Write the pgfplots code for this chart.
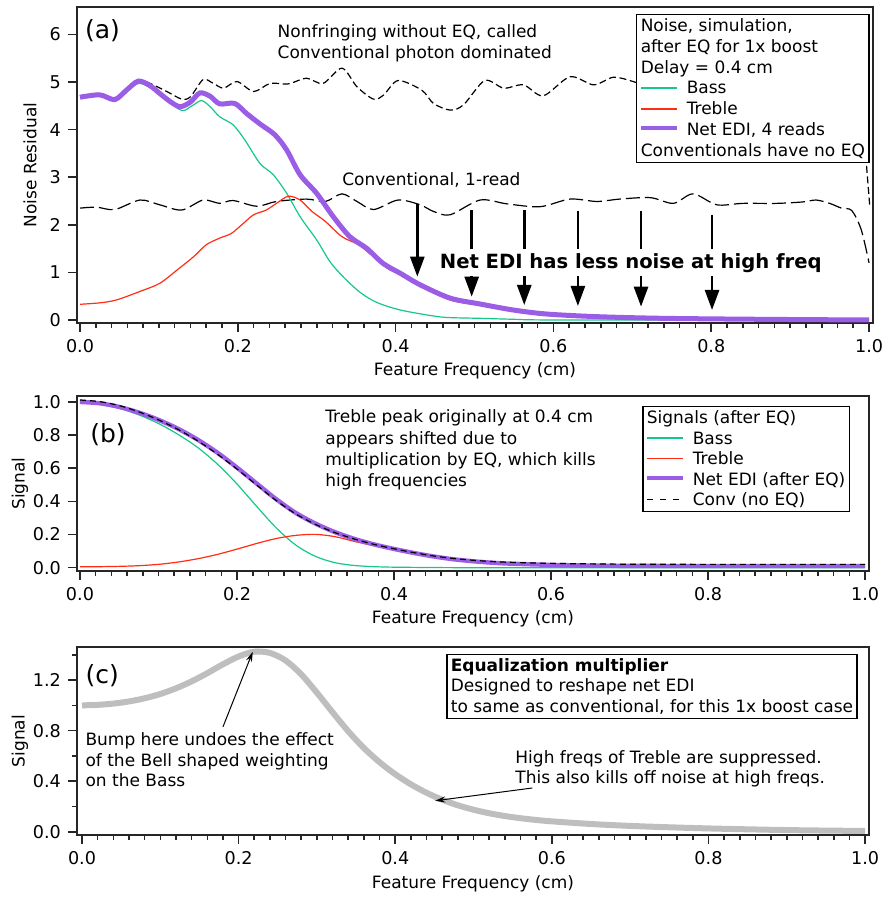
\documentclass[border=0pt]{standalone}
\usepackage{fontspec}
\setmainfont{DejaVu Sans}
\usepackage{pgfplots}
\pgfplotsset{compat=1.18}
\usetikzlibrary{arrows.meta}
\definecolor{cbass}{RGB}{20,200,135}
\definecolor{ctreb}{RGB}{255,45,20}
\definecolor{cedi}{RGB}{155,92,230}
\definecolor{cgray}{RGB}{190,190,190}
\newcommand{\lsamp}[2]{{\color{#1}\rule[0.3em]{18pt}{#2}}\hspace{5pt}}
\newcommand{\dsamp}{\rule[0.3em]{3pt}{0.7pt}\hspace{3.5pt}\rule[0.3em]{3pt}{0.7pt}\hspace{3.5pt}\rule[0.3em]{3pt}{0.7pt}\hspace{7pt}}
\newcommand{\txt}{\fontsize{8.5}{10.4}\selectfont}
\tikzset{arr/.style={black, line width=1.3pt, -{Triangle[width=7pt,length=10pt]}}}
\pgfplotsset{
 igor/.style={
  scale only axis,
  axis line style={line width=0.8pt, black!85},
  tick align=outside, tick pos=left,
  major tick length=4.5pt, minor tick length=2.5pt,
  every tick/.style={black!85, line width=0.8pt},
  xtick={0,0.2,0.4,0.6,0.8,1.0}, minor x tick num=9,
  x tick label style={/pgf/number format/fixed, /pgf/number format/fixed zerofill, /pgf/number format/precision=1},
  /pgf/number format/assume math mode=true,
  tick label style={font=\fontsize{8.8}{10}\selectfont},
  label style={font=\txt},
  xlabel={Feature Frequency (cm)},
 }
}
\begin{document}
\begin{tikzpicture}
\path[use as bounding box] (0,0) rectangle (441pt,448.5pt);
% ---------------- (a)
\begin{axis}[igor, at={(38.5pt,287pt)}, anchor=south west, width=398pt, height=158pt,
  xmin=-0.0038, xmax=1.005, ymin=-0.063, ymax=6.576, ytick={0,1,2,3,4,5,6},
  ylabel={Noise Residual},
  ylabel style={at={(axis description cs:-0.059,0.5)}, anchor=center},
  xlabel style={at={(axis description cs:0.5,-0.152)}, anchor=center}]
\addplot[black, line width=0.6pt, dash pattern=on 3.5pt off 1.8pt, smooth] coordinates {
(0,4.71)(0.025,4.76)(0.044,4.66)(0.059,4.85)(0.074,5.05)(0.089,4.97)(0.110,4.80)(0.129,4.64)(0.140,4.69)
(0.156,5.05)(0.169,4.97)(0.182,4.87)(0.199,5.01)(0.220,4.80)(0.241,4.97)(0.264,4.96)(0.287,5.08)(0.308,4.97)
(0.332,5.29)(0.351,4.90)(0.372,4.64)(0.385,4.73)(0.403,5.03)(0.433,4.83)(0.448,4.55)(0.469,4.41)(0.486,4.52)
(0.513,5.03)(0.537,4.87)(0.562,4.94)(0.587,4.71)(0.621,5.11)(0.651,4.94)(0.676,5.10)(0.701,5.01)
(0.73,4.85)(0.76,5.0)(0.8,4.8)(0.85,5.0)(0.9,4.8)(0.95,4.9)(0.985,4.7)(0.993,4.1)(0.997,3.2)(1.001,2.37)};
\addplot[black, line width=0.6pt, dash pattern=on 7pt off 2.5pt, smooth] coordinates {
(0,2.35)(0.021,2.37)(0.044,2.32)(0.076,2.52)(0.101,2.42)(0.129,2.31)(0.156,2.52)(0.177,2.45)(0.194,2.51)
(0.224,2.39)(0.249,2.49)(0.287,2.54)(0.311,2.49)(0.332,2.65)(0.351,2.49)(0.372,2.32)(0.403,2.52)(0.431,2.42)
(0.448,2.28)(0.469,2.21)(0.507,2.52)(0.541,2.44)(0.583,2.38)(0.621,2.54)(0.655,2.49)(0.684,2.54)(0.723,2.57)
(0.752,2.45)(0.777,2.65)(0.807,2.42)(0.840,2.45)(0.883,2.45)(0.916,2.48)(0.933,2.52)(0.950,2.45)(0.965,2.35)
(0.978,2.30)(0.990,1.90)(1.0,1.2)};
\addplot[cbass, line width=0.6pt, smooth] coordinates {
(0,4.68)(0.025,4.72)(0.044,4.63)(0.059,4.80)(0.074,4.97)(0.089,4.88)(0.110,4.62)(0.129,4.40)(0.142,4.50)
(0.154,4.61)(0.165,4.48)(0.177,4.27)(0.194,4.10)(0.209,3.78)(0.228,3.29)(0.245,3.05)(0.262,2.66)(0.279,2.17)
(0.300,1.68)(0.317,1.22)(0.334,0.90)(0.355,0.58)(0.376,0.37)(0.406,0.21)(0.448,0.084)(0.469,0.05)(0.507,0.035)
(0.55,0.015)(0.612,0.0)(1.0,0.0)};
\addplot[ctreb, line width=0.6pt, smooth] coordinates {
(0,0.33)(0.025,0.36)(0.046,0.42)(0.076,0.60)(0.101,0.77)(0.123,1.05)(0.144,1.33)(0.160,1.58)(0.177,1.72)
(0.192,1.82)(0.207,2.03)(0.220,2.21)(0.236,2.31)(0.249,2.45)(0.264,2.60)(0.279,2.52)(0.294,2.28)(0.311,2.07)
(0.332,1.75)(0.353,1.58)(0.372,1.33)(0.393,1.05)(0.414,0.91)(0.431,0.72)(0.469,0.42)(0.507,0.31)(0.549,0.195)
(0.591,0.12)(0.655,0.066)(0.739,0.033)(0.866,0.013)(1.0,0.0)};
\addplot[cedi, line width=2.5pt, smooth] coordinates {
(0,4.68)(0.025,4.73)(0.044,4.63)(0.059,4.83)(0.074,5.02)(0.089,4.92)(0.101,4.76)(0.115,4.58)(0.127,4.48)
(0.140,4.58)(0.152,4.77)(0.165,4.70)(0.177,4.54)(0.196,4.55)(0.211,4.34)(0.228,4.12)(0.247,3.89)(0.262,3.57)
(0.279,3.05)(0.300,2.66)(0.321,2.17)(0.342,1.75)(0.363,1.51)(0.384,1.19)(0.406,0.98)(0.431,0.74)(0.469,0.46)
(0.507,0.336)(0.549,0.21)(0.591,0.126)(0.655,0.07)(0.739,0.035)(0.866,0.014)(1.0,0.0)};
\draw[arr] (axis cs:0.4275,2.44) -- (axis cs:0.4275,0.91);
\draw[arr] (axis cs:0.4964,2.31) -- (axis cs:0.4964,0.49);
\draw[arr] (axis cs:0.563,2.31) -- (axis cs:0.563,0.315);
\draw[arr] (axis cs:0.631,2.28) -- (axis cs:0.631,0.294);
\draw[arr] (axis cs:0.711,2.28) -- (axis cs:0.711,0.28);
\draw[arr] (axis cs:0.801,2.21) -- (axis cs:0.801,0.21);
\node[fill=white, inner xsep=1pt, inner ysep=2pt, font=\fontsize{9.8}{11}\selectfont\bfseries] at (axis cs:0.698,1.20) {Net EDI has less noise at high freq};
\node[anchor=west, inner sep=0pt, font=\fontsize{12.5}{14}\selectfont] at (axis cs:0.006,6.07) {(a)};
\node[anchor=west, inner sep=0pt, align=left, font=\txt] at (axis cs:0.25,5.82) {Nonfringing without EQ, called\\Conventional photon dominated};
\node[anchor=west, inner sep=0pt, font=\txt] at (axis cs:0.332,2.94) {Conventional, 1-read};
\node[anchor=north west, draw=black, line width=0.7pt, fill=white, inner sep=2pt, align=left, font=\txt] at (axis cs:0.7047,6.43) {%
Noise, simulation,\\
after EQ for 1x boost\\
Delay = 0.4 cm\\
\lsamp{cbass}{0.9pt}Bass\\
\lsamp{ctreb}{0.9pt}Treble\\
\lsamp{cedi}{2.2pt}Net EDI, 4 reads\\
Conventionals have no EQ};
\end{axis}
% ---------------- (b)
\begin{axis}[igor, at={(38.5pt,163pt)}, anchor=south west, width=396pt, height=87.5pt,
  xmin=-0.0038, xmax=1.005, ymin=-0.02, ymax=1.036, ytick={0,0.2,0.4,0.6,0.8,1.0},
  y tick label style={/pgf/number format/fixed, /pgf/number format/fixed zerofill, /pgf/number format/precision=1},
  ylabel={Signal},
  ylabel style={at={(axis description cs:-0.072,0.5)}, anchor=center},
  xlabel style={at={(axis description cs:0.5,-0.274)}, anchor=center}]
\addplot[cbass, line width=0.6pt, smooth] coordinates {
(0,0.995)(0.025,0.986)(0.05,0.962)(0.075,0.922)(0.1,0.870)(0.125,0.804)(0.15,0.725)(0.175,0.625)(0.2,0.505)
(0.225,0.370)(0.25,0.240)(0.275,0.136)(0.3,0.068)(0.325,0.030)(0.35,0.013)(0.375,0.006)(0.4,0.003)(0.45,0.001)
(0.5,0.0)(0.75,0.0)(1.0,0.0)};
\addplot[ctreb, line width=0.6pt, smooth] coordinates {
(0,0.005)(0.025,0.006)(0.05,0.008)(0.075,0.012)(0.1,0.020)(0.125,0.034)(0.15,0.054)(0.175,0.080)(0.2,0.112)
(0.225,0.146)(0.25,0.176)(0.275,0.195)(0.3,0.201)(0.325,0.187)(0.35,0.158)(0.375,0.132)(0.4,0.108)(0.425,0.085)
(0.45,0.065)(0.475,0.049)(0.5,0.037)(0.525,0.029)(0.55,0.022)(0.6,0.015)(0.65,0.012)(0.7,0.010)(0.8,0.009)(1.0,0.008)};
\addplot[cedi, line width=2.2pt, smooth] coordinates {
(0,1.000)(0.025,0.992)(0.05,0.970)(0.075,0.936)(0.1,0.892)(0.125,0.838)(0.15,0.772)(0.175,0.694)(0.2,0.604)
(0.225,0.508)(0.25,0.413)(0.275,0.330)(0.3,0.266)(0.325,0.214)(0.35,0.173)(0.375,0.140)(0.4,0.113)(0.425,0.089)
(0.45,0.068)(0.475,0.051)(0.5,0.039)(0.525,0.030)(0.55,0.024)(0.6,0.017)(0.65,0.013)(0.7,0.011)(0.8,0.010)(1.0,0.010)};
\addplot[black, line width=0.6pt, dash pattern=on 3pt off 2pt, smooth] coordinates {
(0,1.012)(0.025,1.002)(0.05,0.978)(0.075,0.940)(0.1,0.892)(0.125,0.834)(0.15,0.765)(0.175,0.685)(0.2,0.595)
(0.225,0.499)(0.25,0.405)(0.275,0.324)(0.3,0.261)(0.325,0.211)(0.35,0.172)(0.375,0.140)(0.4,0.114)(0.425,0.091)
(0.45,0.071)(0.475,0.056)(0.5,0.045)(0.525,0.037)(0.55,0.032)(0.6,0.026)(0.65,0.023)(0.7,0.021)(0.8,0.020)(1.0,0.020)};
\node[anchor=west, inner sep=0pt, font=\fontsize{12.5}{14}\selectfont] at (axis cs:0.0127,0.80) {(b)};
\node[anchor=west, inner sep=0pt, align=left, font=\fontsize{8.5}{10.6}\selectfont] at (axis cs:0.312,0.71) {Treble peak originally at 0.4 cm\\appears shifted due to\\multiplication by EQ, which kills\\high frequencies};
\node[anchor=north west, draw=black, line width=0.7pt, fill=white, inner sep=2pt, align=left, font=\fontsize{8.5}{10.25}\selectfont] at (axis cs:0.716,0.976) {%
Signals (after EQ)\\
\lsamp{cbass}{0.9pt}Bass\\
\lsamp{ctreb}{0.9pt}Treble\\
\lsamp{cedi}{2.2pt}Net EDI (after EQ)\\
\dsamp Conv (no EQ)};
\end{axis}
% ---------------- (c)
\begin{axis}[igor, at={(38.5pt,31pt)}, anchor=south west, width=396pt, height=94pt,
  xmin=-0.0064, xmax=1.005, ymin=-0.026, ymax=1.462, ytick={0,0.4,0.8,1.2}, minor ytick={0.2,0.6,1.0,1.4},
  y tick label style={/pgf/number format/fixed, /pgf/number format/fixed zerofill, /pgf/number format/precision=1},
  ylabel={Signal},
  ylabel style={at={(axis description cs:-0.072,0.5)}, anchor=center},
  xlabel style={at={(axis description cs:0.5,-0.26)}, anchor=center}]
\addplot[cgray, line width=3pt, smooth] coordinates {
(0,1.000)(0.02,1.004)(0.04,1.014)(0.06,1.031)(0.08,1.056)(0.10,1.090)(0.12,1.135)(0.14,1.190)(0.16,1.255)
(0.18,1.325)(0.20,1.387)(0.22,1.425)(0.24,1.415)(0.26,1.355)(0.28,1.245)(0.30,1.100)(0.32,0.945)(0.34,0.795)
(0.36,0.662)(0.38,0.550)(0.40,0.455)(0.42,0.375)(0.44,0.308)(0.46,0.253)(0.48,0.209)(0.50,0.174)(0.52,0.146)
(0.54,0.124)(0.56,0.107)(0.58,0.093)(0.60,0.082)(0.65,0.061)(0.70,0.046)(0.75,0.035)(0.80,0.026)(0.85,0.019)
(0.90,0.013)(0.95,0.009)(1.0,0.006)};
\node[anchor=west, inner sep=0pt, font=\fontsize{12.5}{14}\selectfont] at (axis cs:0.004,1.234) {(c)};
\node[anchor=north west, draw=black, line width=0.7pt, inner sep=2pt, align=left, font=\fontsize{8.5}{10.25}\selectfont] at (axis cs:0.465,1.408) {\textbf{Equalization multiplier}\\Designed to reshape net EDI\\to same as conventional, for this 1x boost case};
\node[anchor=west, inner sep=0pt, align=left, font=\fontsize{8.5}{10.3}\selectfont] at (axis cs:0.004,0.568) {Bump here undoes the effect\\of the Bell shaped weighting\\on the Bass};
\node[anchor=west, inner sep=0pt, align=left, font=\fontsize{8.5}{10.3}\selectfont] at (axis cs:0.553,0.497) {High freqs of Treble are suppressed.\\This also kills off noise at high freqs.};
\draw[black, line width=0.5pt, -{Stealth[length=5pt,width=3pt]}] (axis cs:0.180,0.83) -- (axis cs:0.218,1.424);
\draw[black, line width=0.5pt, -{Stealth[length=5pt,width=3pt]}] (axis cs:0.575,0.346) -- (axis cs:0.451,0.245);
\end{axis}
\end{tikzpicture}
\end{document}
